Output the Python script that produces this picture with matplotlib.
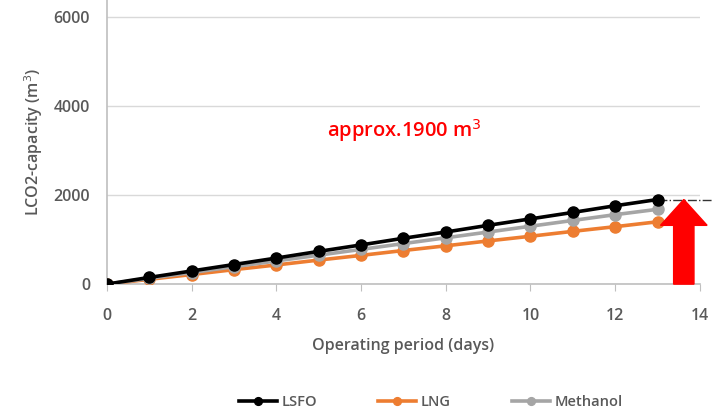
import numpy as np
import matplotlib.pyplot as plt
from matplotlib.patches import FancyArrow

plt.rcParams['font.family'] = ['Open Sans', 'DejaVu Sans']

# LCO2 stored per fuel type over the voyage
days = [0, 1, 2, 3, 4, 5, 6, 7, 8, 9, 10, 11, 12, 13]
lsfo = [0, 150, 295, 440, 585, 735, 880, 1030, 1170, 1320, 1465, 1610, 1760, 1900]
lng = [0, 108, 215, 325, 430, 540, 645, 755, 860, 970, 1075, 1185, 1290, 1400]
methanol = [0, 130, 260, 390, 520, 650, 780, 910, 1040, 1170, 1300, 1430, 1560, 1680]

xticks = [0, 2, 4, 6, 8, 10, 12, 14]
yticks = [0, 2000, 4000, 6000]

grey = '#595959'

fig = plt.figure(figsize=(7.12, 4.16), dpi=100)
ax = fig.add_axes([0.150, 0.317, 0.833, 0.683])

ax.plot(days, lsfo, color='black', lw=2.6, marker='o', ms=8, label='LSFO', zorder=5)
ax.plot(days, lng, color='#ED7D31', lw=2.6, marker='o', ms=8, label='LNG', zorder=3)
ax.plot(days, methanol, color='#A5A5A5', lw=2.6, marker='o', ms=8, label='Methanol', zorder=4)

# reference level at the LSFO end value
ax.plot([days[-1], 14.3], [lsfo[-1], lsfo[-1]], color='#333333', lw=1, ls='-.',
        clip_on=False, zorder=2)

# red arrow marking the required capacity
arrow = FancyArrow(13.62, 0, 0, lsfo[-1], width=0.48, head_width=1.1,
                   head_length=580, length_includes_head=True,
                   color='#FF0000', zorder=6, clip_on=False)
ax.add_patch(arrow)

ax.text(5.2, 3450, 'approx.1900 m$^3$', color='#FF0000', fontsize=14.5,
        fontweight='semibold', ha='left', va='center')

ax.set_xlim(0, 14)
ax.set_ylim(0, 6380)
ax.set_xticks(xticks)
ax.set_yticks(yticks)
ax.grid(axis='y', color='#D9D9D9', lw=1)
ax.set_axisbelow(True)

for s in ['top', 'right']:
    ax.spines[s].set_visible(False)
for s in ['left', 'bottom']:
    ax.spines[s].set_color('#BFBFBF')
    ax.spines[s].set_linewidth(1.2)
ax.tick_params(colors='#BFBFBF', labelcolor=grey, labelsize=11.5, length=5)
ax.tick_params(axis='x', pad=12)
ax.tick_params(axis='y', length=0, pad=12)
for lbl in ax.get_xticklabels() + ax.get_yticklabels():
    lbl.set_fontweight('semibold')

ax.set_xlabel('Operating period (days)', color=grey, fontsize=11.5,
              fontweight='semibold', labelpad=10)
ax.set_ylabel('LCO2-capacity (m$^3$)', color=grey, fontsize=11.5,
              fontweight='semibold', labelpad=6)

fig.legend(loc='lower center', bbox_to_anchor=(0.605, -0.015), ncol=3, frameon=False,
           prop={'size': 10.5, 'weight': 'semibold'}, labelcolor=grey,
           handlelength=2.6, handletextpad=0.3, columnspacing=4.2,
           markerscale=0.7)

fig.savefig('out.png', dpi=100)
